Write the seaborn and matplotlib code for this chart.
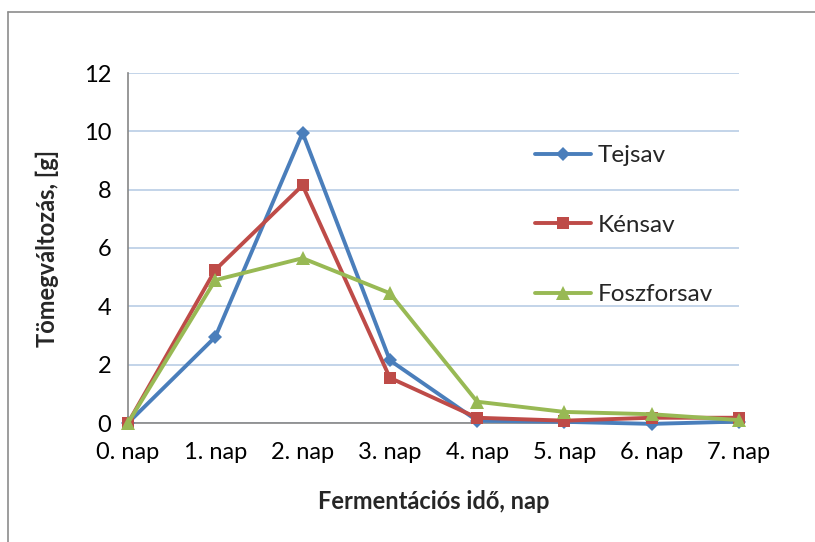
import pandas as pd
import matplotlib.pyplot as plt
import seaborn as sns
from matplotlib.lines import Line2D

# Data
days = ["0. nap", "1. nap", "2. nap", "3. nap", "4. nap", "5. nap", "6. nap", "7. nap"]
tejsav = [0.0, 2.95, 9.95, 2.15, 0.08, 0.04, -0.03, 0.05]
kensav = [0.0, 5.25, 8.15, 1.55, 0.18, 0.08, 0.18, 0.18]
foszforsav = [0.0, 4.9, 5.65, 4.45, 0.73, 0.38, 0.3, 0.1]

series = {"Tejsav": tejsav, "Kénsav": kensav, "Foszforsav": foszforsav}
colors = {"Tejsav": "#4A7EBB", "Kénsav": "#BE4B48", "Foszforsav": "#98B954"}
markers = {"Tejsav": "D", "Kénsav": "s", "Foszforsav": "^"}
msizes = {"Tejsav": 7.5, "Kénsav": 9, "Foszforsav": 10}

sns.set_style("white")
plt.rcParams['font.family'] = ['Lato', 'DejaVu Sans']

fig = plt.figure(figsize=(8.15, 5.42), dpi=100)
ax = fig.add_axes([128 / 815, 1 - 423 / 542, (739 - 128) / 815, (423 - 73) / 542])

for name, vals in series.items():
    df = pd.DataFrame({"day": range(len(days)), "value": vals})
    sns.lineplot(data=df, x="day", y="value", ax=ax, color=colors[name],
                 marker=markers[name], markersize=msizes[name], markeredgewidth=0,
                 linewidth=2.8, label=name, zorder=3)

ax.set_xlim(0, 7)
ax.set_ylim(0, 12)
ax.set_yticks(range(0, 13, 2))
ax.set_xticks(range(len(days)))
ax.set_xticklabels(days)
ax.tick_params(axis='both', labelsize=17, colors='#868686', labelcolor='black',
               direction='out', length=6, width=1.2, pad=6)
ax.tick_params(axis='x', pad=8)
ax.set_axisbelow(True)
ax.grid(axis='y', color='#B9CDE5', linewidth=1.2)
ax.grid(axis='x', visible=False)
for s in ['top', 'right']:
    ax.spines[s].set_visible(False)
for s in ['left', 'bottom']:
    ax.spines[s].set_color('#868686')
    ax.spines[s].set_linewidth(1.2)

ax.set_xlabel("Fermentációs idő, nap", fontsize=17, fontweight='bold', labelpad=19)
ax.set_ylabel("Tömegváltozás, [g]", fontsize=17, fontweight='bold', labelpad=18)

for line in ax.get_lines():
    line.set_clip_on(False)

ax.legend(loc='center left', bbox_to_anchor=(0.651, 0.565), frameon=False, borderaxespad=0,
          fontsize=17.5, handlelength=2.3, handletextpad=0.25, labelspacing=2.0)

# chart frame (Excel style)
fig.add_artist(Line2D([8 / 815, 8 / 815], [0, 1 - 12 / 542], color='#8C8C8C', linewidth=1.2))
fig.add_artist(Line2D([8 / 815, 1], [1 - 12 / 542, 1 - 12 / 542], color='#8C8C8C', linewidth=1.2))

fig.savefig("out.png", dpi=100)
